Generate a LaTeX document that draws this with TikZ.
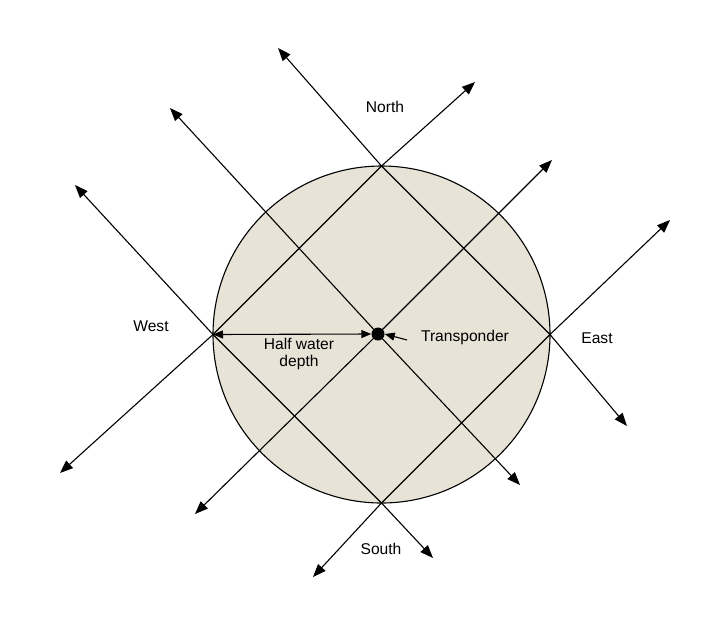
\documentclass[tikz,border=0pt]{standalone}
\usepackage{fontspec}
\setmainfont{Liberation Sans}
\usetikzlibrary{arrows.meta}
\definecolor{seabed}{RGB}{231,227,215}
\tikzset{
  tip/.tip={Triangle[length=13pt,width=10pt]},
  smalltip/.tip={Triangle[length=10pt,width=8pt]},
  ray/.style={line width=1.1pt, line join=round, tip-tip},
  lbl/.style={font=\fontsize{15.6}{17}\selectfont, inner sep=0pt, align=center},
}
\begin{document}
\begin{tikzpicture}[x=1pt,y=-1pt]
\useasboundingbox (0,0) rectangle (711,619);
% seabed circle
\coordinate (C) at (381.5,334.5);
\fill[seabed] (C) circle (168.5);
% points on the circle
\coordinate (N) at (381.5,166);
\coordinate (S) at (381.5,503);
\coordinate (W) at (213,334.5);
\coordinate (E) at (550,334.5);
\coordinate (T) at (378,334);
% arrow tips
\coordinate (a1) at (278,48);   \coordinate (b1) at (627,426);
\coordinate (a2) at (170,108);  \coordinate (b2) at (520,485);
\coordinate (a3) at (75,185);   \coordinate (b3) at (433,558);
\coordinate (a4) at (60,473);   \coordinate (b4) at (475,82);
\coordinate (a5) at (195,514);  \coordinate (b5) at (552,160);
\coordinate (a6) at (313,577);  \coordinate (b6) at (670,220);
% rays
\draw[ray] (a1) -- (N) -- (E) -- (b1);
\draw[ray] (a2) -- (T) -- (b2);
\draw[ray] (a3) -- (W) -- (S) -- (b3);
\draw[ray] (a4) -- (W) -- (N) -- (b4);
\draw[ray] (a5) -- (T) -- (b5);
\draw[ray] (a6) -- (S) -- (E) -- (b6);
\draw[line width=1.1pt] (C) circle (168.5);
% transponder
\node[circle, fill=black, minimum size=13pt, inner sep=0pt] (tr) at (T) {};
\draw[line width=1.1pt, smalltip-smalltip] (W) -- (tr.west);
\coordinate (pt) at (407,340);
\draw[line width=1.1pt, -smalltip] (pt) -- (tr.east);
% labels
\node[lbl] (north) at (385,107) {North};
\node[lbl] (south) at (381,549) {South};
\node[lbl] (west) at (151,326) {West};
\node[lbl] (east) at (597,338) {East};
\node[lbl] (transp) at (465,337) {Transponder};
\node[lbl] (hwd) at (299,354) {Half water\\depth};
\end{tikzpicture}
\end{document}
